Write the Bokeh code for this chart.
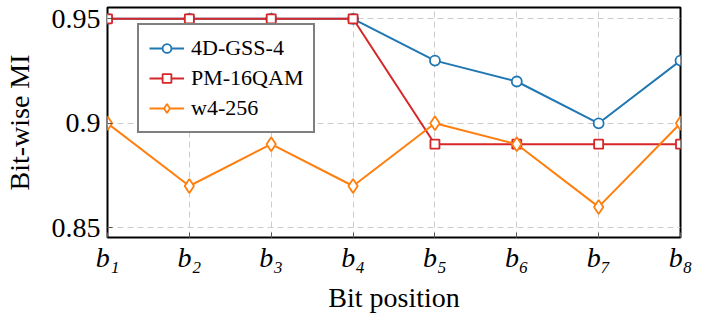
from bokeh.plotting import figure
from bokeh.models import Range1d, Legend, LegendItem, FixedTicker
from bokeh.embed import file_html
from bokeh.resources import INLINE

positions = [1, 2, 3, 4, 5, 6, 7, 8]
tick_labels = ["b\u2081", "b\u2082", "b\u2083", "b\u2084", "b\u2085", "b\u2086", "b\u2087", "b\u2088"]
gss4 = [0.95, 0.95, 0.95, 0.95, 0.93, 0.92, 0.90, 0.93]
pm16qam = [0.95, 0.95, 0.95, 0.95, 0.89, 0.89, 0.89, 0.89]
w4_256 = [0.90, 0.87, 0.89, 0.87, 0.90, 0.89, 0.86, 0.90]
y_ticks = [0.85, 0.9, 0.95]
y_tick_labels = {0.85: "0.85", 0.9: "0.9", 0.95: "0.95"}

FONT = "Liberation Serif"
BLUE = "#1f77b4"
RED = "#d62728"
ORANGE = "#ff7f0e"

p = figure(width=695, height=325, output_backend="svg", toolbar_location=None,
           x_range=Range1d(1, 8), y_range=Range1d(0.84536, 0.95541),
           min_border_left=107, min_border_right=15, min_border_top=7, min_border_bottom=88)

p.outline_line_color = "black"
p.outline_line_width = 2
p.background_fill_color = "white"
p.border_fill_color = "white"

# grid
p.xgrid.ticker = FixedTicker(ticks=positions)
p.ygrid.ticker = FixedTicker(ticks=y_ticks)
for g in (p.xgrid, p.ygrid):
    g.grid_line_color = "#cccccc"
    g.grid_line_dash = "6 4"
    g.grid_line_width = 1

def style_axis(ax):
    ax.axis_line_color = None
    ax.major_tick_in = 5
    ax.major_tick_out = 0
    ax.major_tick_line_color = "#555555"
    ax.major_tick_line_width = 1
    ax.minor_tick_line_color = None
    ax.major_label_text_font = FONT
    ax.major_label_text_font_size = "28px"
    ax.major_label_text_color = "black"
    ax.axis_label_text_font = FONT
    ax.axis_label_text_font_size = "28px"
    ax.axis_label_text_font_style = "normal"
    ax.axis_label_text_color = "black"

xa = p.xaxis[0]
xa.ticker = FixedTicker(ticks=positions)
xa.major_label_overrides = {pos: lab for pos, lab in zip(positions, tick_labels)}
xa.axis_label = "Bit position"
style_axis(xa)
xa.major_label_text_font_style = "italic"
xa.major_label_standoff = 4
xa.axis_label_standoff = 6

ya = p.yaxis[0]
ya.ticker = FixedTicker(ticks=y_ticks)
ya.major_label_overrides = y_tick_labels
ya.axis_label = "Bit-wise MI"
style_axis(ya)
ya.major_label_standoff = 7
ya.axis_label_standoff = 14

series = [
    ("4D-GSS-4", gss4, BLUE, "circle", 10),
    ("PM-16QAM", pm16qam, RED, "square", 9),
    ("w4-256", w4_256, ORANGE, "diamond", 14),
]
items = []
for name, vals, col, mk, sz in series:
    l = p.line(positions, vals, line_color=col, line_width=2)
    s = p.scatter(positions, vals, marker=mk, size=sz, line_color=col,
                  fill_color="white", line_width=1.8)
    items.append(LegendItem(label=name, renderers=[l, s]))

legend = Legend(items=items, location=(30, 104))
legend.label_text_font = FONT
legend.label_text_font_size = "22px"
legend.label_text_color = "black"
legend.glyph_width = 35
legend.glyph_height = 22
legend.label_height = 22
legend.spacing = 4
legend.padding = 10
legend.label_standoff = 7
legend.margin = 0
legend.border_line_color = "black"
legend.border_line_width = 2
legend.background_fill_alpha = 1
p.add_layout(legend, "center")

open("out.html", "w").write(file_html(p, INLINE))
